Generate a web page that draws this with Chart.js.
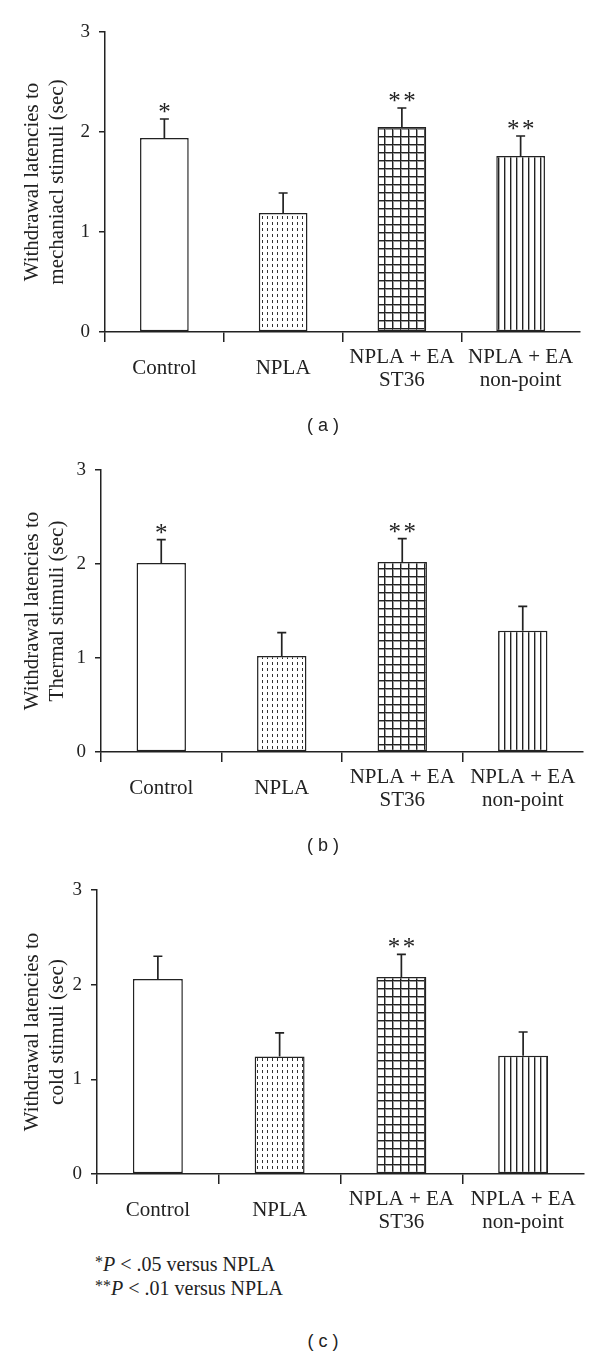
<!DOCTYPE html>
<html>
<head>
<meta charset="utf-8">
<script src="https://cdn.jsdelivr.net/npm/chart.js@4.4.1/dist/chart.umd.min.js"></script>
<style>
  body { margin: 0; background: #fff; }
  #page { position: relative; width: 600px; height: 1351px; font-family: 'Liberation Serif', serif; color: #222; }
  canvas { position: absolute; left: 0; }
  .cap { position: absolute; left: 283px; width: 80px; text-align: center; font-family: 'Liberation Sans', Arial, sans-serif; font-size: 18px; line-height: 20px; }
  .note { position: absolute; left: 95px; font-size: 20px; line-height: 24px; white-space: nowrap; }
  .note .st { font-size: 16px; position: relative; top: -4px; }
</style>
</head>
<body>
<div id="page">
  <canvas id="chartA" width="600" height="420" style="top:0px"></canvas>
  <div class="cap" style="top:415px">( a )</div>
  <canvas id="chartB" width="600" height="400" style="top:440px"></canvas>
  <div class="cap" style="top:835px">( b )</div>
  <canvas id="chartC" width="600" height="390" style="top:860px"></canvas>
  <div class="note" style="top:1252px"><span class="st">*</span><i>P</i> &lt; .05 versus NPLA</div>
  <div class="note" style="top:1276px"><span class="st">**</span><i>P</i> &lt; .01 versus NPLA</div>
  <div class="cap" style="top:1331px">( c )</div>
</div>
<script>
const categories = ['Control', 'NPLA', ['NPLA + EA', 'ST36'], ['NPLA + EA', 'non-point']];
const yTicks = [0, 1, 2, 3];

const mechanicalMeans = [1.94, 1.19, 2.05, 1.76];
const mechanicalErrors = [0.19, 0.20, 0.19, 0.20];
const mechanicalStars = ['*', '', '**', '**'];

const thermalMeans = [2.01, 1.02, 2.02, 1.29];
const thermalErrors = [0.25, 0.25, 0.25, 0.26];
const thermalStars = ['*', '', '**', ''];

const coldMeans = [2.06, 1.24, 2.08, 1.25];
const coldErrors = [0.24, 0.25, 0.24, 0.25];
const coldStars = ['', '', '**', ''];

const FONT = 'Liberation Serif';
const INK = '#222';

function makePattern(kind) {
  const c = document.createElement('canvas');
  if (kind === 'dash') { c.width = 5; c.height = 6; }
  if (kind === 'grid') { c.width = 8; c.height = 8; }
  if (kind === 'vert') { c.width = 6; c.height = 2; }
  const g = c.getContext('2d');
  g.fillStyle = '#fff';
  g.fillRect(0, 0, c.width, c.height);
  if (kind === 'dash') {
    g.fillStyle = '#333';
    g.fillRect(2, 0, 1, 3);
  } else if (kind === 'grid') {
    g.fillStyle = '#222';
    g.fillRect(0, 0, 8, 1);
    g.fillRect(0, 0, 1, 8);
    g.fillStyle = '#999';
    g.fillRect(1, 1, 7, 1);
    g.fillRect(1, 1, 1, 7);
  } else {
    g.fillStyle = '#222';
    g.fillRect(0, 0, 1, 2);
    g.fillStyle = '#aaa';
    g.fillRect(1, 0, 1, 2);
  }
  return g.createPattern(c, 'repeat');
}

const fills = ['#fff', makePattern('dash'), makePattern('grid'), makePattern('vert')];

const errorBars = {
  id: 'errorBars',
  afterDatasetsDraw(chart) {
    const ctx = chart.ctx;
    const y = chart.scales.y;
    const ds = chart.data.datasets[0];
    const meta = chart.getDatasetMeta(0);
    ctx.save();
    ctx.strokeStyle = INK;
    ctx.fillStyle = INK;
    ctx.lineWidth = 1.7;
    ctx.font = '25px ' + FONT;
    ctx.textAlign = 'center';
    ctx.textBaseline = 'alphabetic';
    meta.data.forEach((bar, i) => {
      const top = y.getPixelForValue(ds.data[i] + ds.errors[i]);
      ctx.beginPath();
      ctx.moveTo(bar.x, bar.y);
      ctx.lineTo(bar.x, top);
      ctx.moveTo(bar.x - 4.5, top);
      ctx.lineTo(bar.x + 4.5, top);
      ctx.stroke();
      const n = ds.stars[i].length;
      for (let k = 0; k < n; k++) {
        ctx.fillText('*', bar.x + (k - (n - 1) / 2) * 15, top + 1);
      }
    });
    ctx.restore();
  }
};

function drawPanel(id, means, errors, stars, title, box) {
  new Chart(document.getElementById(id), {
    type: 'bar',
    data: {
      labels: categories,
      datasets: [{
        data: means,
        errors: errors,
        stars: stars,
        backgroundColor: fills,
        borderColor: INK,
        borderWidth: 1.5,
        borderSkipped: false,
        barPercentage: 0.41,
        categoryPercentage: 1
      }]
    },
    options: {
      responsive: false,
      animation: false,
      devicePixelRatio: 1,
      layout: { padding: { top: box.top, right: box.right, bottom: box.bottom, left: 0 } },
      plugins: { legend: { display: false }, tooltip: { enabled: false } },
      scales: {
        x: {
          offset: true,
          grid: {
            offset: true,
            drawOnChartArea: false,
            tickLength: 10,
            lineWidth: 1.5,
            color: c => c.type === 'tick' ? INK : 'rgba(0,0,0,0)'
          },
          border: { color: INK, width: 1.5 },
          ticks: {
            color: INK,
            font: { family: FONT, size: 21, lineHeight: 1.1 },
            padding: 15,
            maxRotation: 0,
            minRotation: 0,
            autoSkip: false,
            crossAlign: 'center'
          },
          afterFit: s => { s.height = 60; }
        },
        y: {
          min: 0,
          max: 3,
          afterBuildTicks: s => { s.ticks = yTicks.map(v => ({ value: v })); },
          grid: { drawOnChartArea: false, tickLength: 6, lineWidth: 1.5, color: INK },
          border: { color: INK, width: 1.5 },
          ticks: { color: INK, font: { family: FONT, size: 19 }, padding: 9 },
          title: {
            display: true,
            text: title,
            color: INK,
            font: { family: FONT, size: 21, lineHeight: 1.2 },
            padding: { top: 20, bottom: 0 }
          },
          afterFit: s => { s.width = box.left; }
        }
      }
    },
    plugins: [errorBars]
  });
}

drawPanel('chartA', mechanicalMeans, mechanicalErrors, mechanicalStars,
  ['Withdrawal latencies to', 'mechaniacl stimuli (sec)'],
  { top: 32, bottom: 28, left: 105, right: 20 });
drawPanel('chartB', thermalMeans, thermalErrors, thermalStars,
  ['Withdrawal latencies to', 'Thermal stimuli (sec)'],
  { top: 30, bottom: 28, left: 101, right: 17 });
drawPanel('chartC', coldMeans, coldErrors, coldStars,
  ['Withdrawal latencies to', 'cold stimuli (sec)'],
  { top: 30, bottom: 16, left: 97, right: 16 });
</script>
</body>
</html>
